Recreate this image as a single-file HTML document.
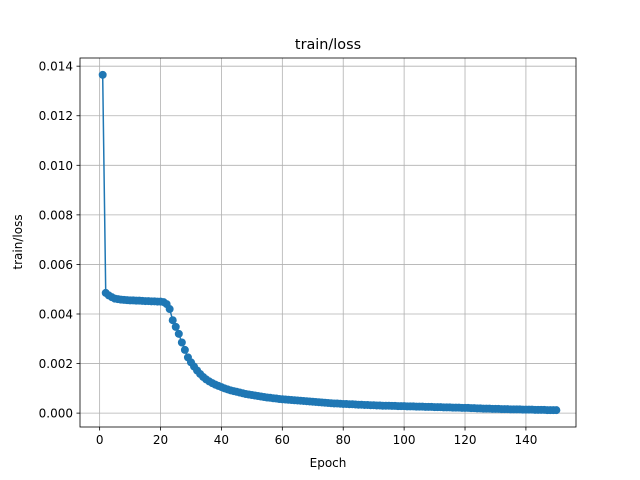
<!DOCTYPE html>
<html><head><meta charset="utf-8"><style>
html,body{margin:0;padding:0;background:#fff;}
svg{display:block;font-family:"DejaVu Sans","Liberation Sans",sans-serif;}
</style></head><body>
<svg id="chart" width="640" height="480">
<rect x="0" y="0" width="640" height="480" fill="#fff"/>
<g id="grid"></g>
<g id="series"></g>
<rect x="80" y="58" width="496" height="369" fill="none" stroke="#000" stroke-width="0.8"/>
<g id="xticks"></g>
<g id="yticks"></g>
<text x="328" y="49" text-anchor="middle" font-size="14.4">train/loss</text>
<text x="328" y="467" text-anchor="middle" font-size="12">Epoch</text>
<text transform="translate(22,242) rotate(-90)" text-anchor="middle" font-size="12">train/loss</text>
</svg>
<script>
const xTicks=[0,20,40,60,80,100,120,140];
const yTicks=[0,0.002,0.004,0.006,0.008,0.010,0.012,0.014];
const yTickLabels=["0.000","0.002","0.004","0.006","0.008","0.010","0.012","0.014"];
const lossValues=[0.01365,0.00485,0.00475,0.00468,0.00462,0.0046,0.00458,0.00457,0.00456,0.00455,
0.00455,0.00454,0.00454,0.00453,0.00452,0.00452,0.00451,0.00451,0.0045,0.0045,
0.00448,0.0044,0.0042,0.00375,0.00348,0.0032,0.00285,0.00255,0.00225,0.00205,
0.00188,0.00172,0.00158,0.00146,0.00136,0.00128,0.00121,0.00115,0.0011,0.00105,
0.001,0.00096,0.00092,0.00089,0.00086,0.00083,0.0008,0.00077,0.00075,0.00073,
0.00071,0.00069,0.00067,0.00065,0.00063,0.00062,0.0006,0.00059,0.00057,0.00056,
0.00055,0.00054,0.00053,0.00052,0.00051,0.0005,0.00049,0.00048,0.00047,0.00046,
0.00045,0.00044,0.00043,0.00042,0.00041,0.0004,0.00039,0.00039,0.00038,0.00037,
0.00037,0.00036,0.00036,0.00035,0.00034,0.00034,0.00033,0.00033,0.00032,0.00032,
0.00031,0.00031,0.0003,0.0003,0.0003,0.00029,0.00029,0.00028,0.00028,0.00028,
0.00027,0.00027,0.00027,0.00026,0.00026,0.00026,0.00025,0.00025,0.00025,0.00024,
0.00024,0.00024,0.00023,0.00023,0.00023,0.00022,0.00022,0.00022,0.00021,0.00021,
0.00021,0.0002,0.0002,0.00019,0.00019,0.00018,0.00018,0.00018,0.00017,0.00017,
0.00017,0.00016,0.00016,0.00016,0.00015,0.00015,0.00015,0.00015,0.00014,0.00014,
0.00014,0.00014,0.00013,0.00013,0.00013,0.00013,0.00012,0.00012,0.00012,0.00012];
const epochs=lossValues.map((v,i)=>i+1);
const NS="http://www.w3.org/2000/svg";
const X0=80,X1=576,Y0=58,Y1=427;
const xmin=-6.45,xmax=156.45;
const ymin=-0.00056,ymax=0.01433;
const sx=v=>X0+(v-xmin)/(xmax-xmin)*(X1-X0);
const sy=v=>Y1-(v-ymin)/(ymax-ymin)*(Y1-Y0);
function mk(tag,attrs,parent){const e=document.createElementNS(NS,tag);for(const k in attrs)e.setAttribute(k,attrs[k]);parent.appendChild(e);return e;}
const grid=document.getElementById('grid'),xt=document.getElementById('xticks'),yt=document.getElementById('yticks'),ser=document.getElementById('series');
xTicks.forEach(t=>{const x=sx(t);
const g=mk('line',{x1:x,x2:x,y1:Y0,y2:Y1,stroke:'#b0b0b0','stroke-width':0.8},grid);


mk('line',{x1:x,x2:x,y1:Y1,y2:Y1+3.5,stroke:'#000','stroke-width':0.8},xt);
const tx=mk('text',{x:x,y:Y1+17,'text-anchor':'middle','font-size':12},xt);tx.textContent=t;

});
yTicks.forEach((t,i)=>{const y=sy(t);
const g=mk('line',{x1:X0,x2:X1,y1:y,y2:y,stroke:'#b0b0b0','stroke-width':0.8},grid);


mk('line',{x1:X0-3.5,x2:X0,y1:y,y2:y,stroke:'#000','stroke-width':0.8},yt);
const tx=mk('text',{x:X0-7,y:y+4.5,'text-anchor':'end','font-size':12},yt);tx.textContent=yTickLabels[i];

});
const pts=lossValues.map((v,i)=>sx(epochs[i]).toFixed(2)+','+sy(v).toFixed(2)).join(' ');
const pl=mk('polyline',{points:pts,fill:'none',stroke:'#1f77b4','stroke-width':1.5},ser);


lossValues.forEach((v,i)=>{const c=mk('circle',{cx:sx(epochs[i]),cy:sy(v),r:4,fill:'#1f77b4'},ser);

});
</script>
</body></html>
